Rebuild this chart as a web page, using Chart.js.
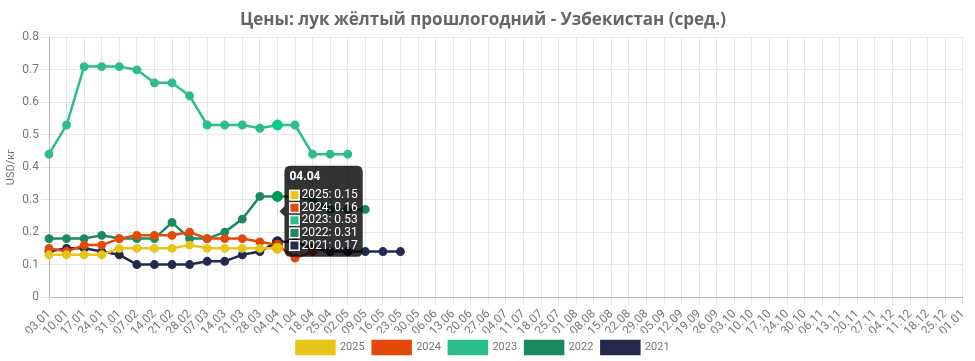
<!DOCTYPE html>
<html>
<head>
<meta charset="utf-8">
<script src="https://cdn.jsdelivr.net/npm/chart.js@4/dist/chart.umd.min.js"></script>
<style>
  html, body { margin: 0; padding: 0; background: #fff; }
  #wrap { width: 975px; height: 361px; }
</style>
</head>
<body>
<div id="wrap"><canvas id="c"></canvas></div>
<script>
const labels = ["03.01","10.01","17.01","24.01","31.01","07.02","14.02","21.02","28.02","07.03","14.03","21.03","28.03",
  "04.04","11.04","18.04","25.04","02.05","09.05","16.05","23.05","30.05","06.06","13.06","20.06","27.06",
  "04.07","11.07","18.07","25.07","01.08","08.08","15.08","22.08","29.08","05.09","12.09","19.09","26.09",
  "03.10","10.10","17.10","24.10","30.10","06.11","13.11","20.11","27.11","04.12","11.12","18.12","25.12","01.01"];

const years = ["2025", "2024", "2023", "2022", "2021"];
const colors = ["#e8c619", "#e4490a", "#2bbd8b", "#1b8a5e", "#232a4d"];

const v2025 = [0.13,0.13,0.13,0.13,0.15,0.15,0.15,0.15,0.16,0.15,0.15,0.15,0.15,0.15];
const v2024 = [0.15,0.14,0.16,0.16,0.18,0.19,0.19,0.19,0.20,0.18,0.18,0.18,0.17,0.16,0.12,0.14];
const v2023 = [0.44,0.53,0.71,0.71,0.71,0.70,0.66,0.66,0.62,0.53,0.53,0.53,0.52,0.53,0.53,0.44,0.44,0.44];
const v2022 = [0.18,0.18,0.18,0.19,0.18,0.18,0.18,0.23,0.18,0.18,0.20,0.24,0.31,0.31,0.31,0.30,0.27,0.27,0.27];
const v2021 = [0.14,0.15,0.15,0.14,0.13,0.10,0.10,0.10,0.10,0.11,0.11,0.13,0.14,0.17,0.17,0.15,0.14,0.14,0.14,0.14,0.14];

const series = [v2025, v2024, v2023, v2022, v2021];
const yTicks = [0, 0.1, 0.2, 0.3, 0.4, 0.5, 0.6, 0.7, 0.8];
const hoverIndex = 13; // 04.04

Chart.defaults.font.family = "Roboto, 'Open Sans', sans-serif";
Chart.defaults.color = "#666";

const datasets = series.map((d, i) => ({
  label: years[i],
  data: d,
  borderColor: colors[i],
  backgroundColor: colors[i],
  pointBackgroundColor: colors[i],
  pointBorderColor: colors[i],
  borderWidth: 2.5,
  pointRadius: 3.2,
  pointHoverRadius: 5,
  tension: 0,
  fill: false
}));

const chart = new Chart(document.getElementById("c"), {
  type: "line",
  data: { labels, datasets },
  options: {
    responsive: true,
    maintainAspectRatio: false,
    animation: false,
    layout: { padding: { left: 0, right: 9, top: 0, bottom: -3 } },
    interaction: { mode: "index", intersect: false },
    scales: {
      x: {
        grid: { color: "#e6e6e6" },
        border: { color: "#bbb" },
        ticks: { autoSkip: false, minRotation: 45, maxRotation: 45, font: { size: 12 }, color: "#777", padding: 2 },
        afterFit: a => { a.height = 36; }
      },
      y: {
        min: 0,
        max: 0.8,
        afterBuildTicks: axis => { axis.ticks = yTicks.map(v => ({ value: v })); },
        afterFit: a => { a.width = 49; },
        grid: { color: "#e6e6e6" },
        border: { color: "#bbb" },
        ticks: { font: { size: 12 }, color: "#777", padding: 2 },
        title: { display: true, text: "USD/кг", font: { size: 11 }, color: "#777", padding: { top: 5, bottom: 0 } }
      }
    },
    plugins: {
      title: {
        display: true,
        text: "Цены: лук жёлтый прошлогодний - Узбекистан (сред.)",
        font: { size: 17, weight: "bold", family: "'Open Sans', sans-serif" },
        color: "#666",
        padding: { top: 10, bottom: 7 }
      },
      legend: {
        position: "bottom",
        labels: { boxWidth: 38, boxHeight: 13, font: { size: 11 }, color: "#777", padding: 8 }
      },
      tooltip: {
        position: "average",
        backgroundColor: "rgba(0,0,0,0.8)",
        titleFont: { size: 12, weight: "bold", lineHeight: 1 },
        titleMarginBottom: 6,
        bodyFont: { size: 12, lineHeight: 1.05 },
        bodySpacing: 0,
        padding: 5,
        caretSize: 5,
        displayColors: true,
        boxWidth: 10,
        boxHeight: 10,
        boxPadding: 0,
        callbacks: {
          labelColor: ctx => ({ borderColor: "#fff", backgroundColor: ctx.dataset.borderColor, borderWidth: 1 })
        }
      }
    }
  }
});

const active = datasets.map((d, i) => ({ datasetIndex: i, index: hoverIndex }));
chart.setActiveElements(active);
chart.tooltip.setActiveElements(active, { x: 280, y: 210 });
chart.update();
</script>
</body>
</html>
